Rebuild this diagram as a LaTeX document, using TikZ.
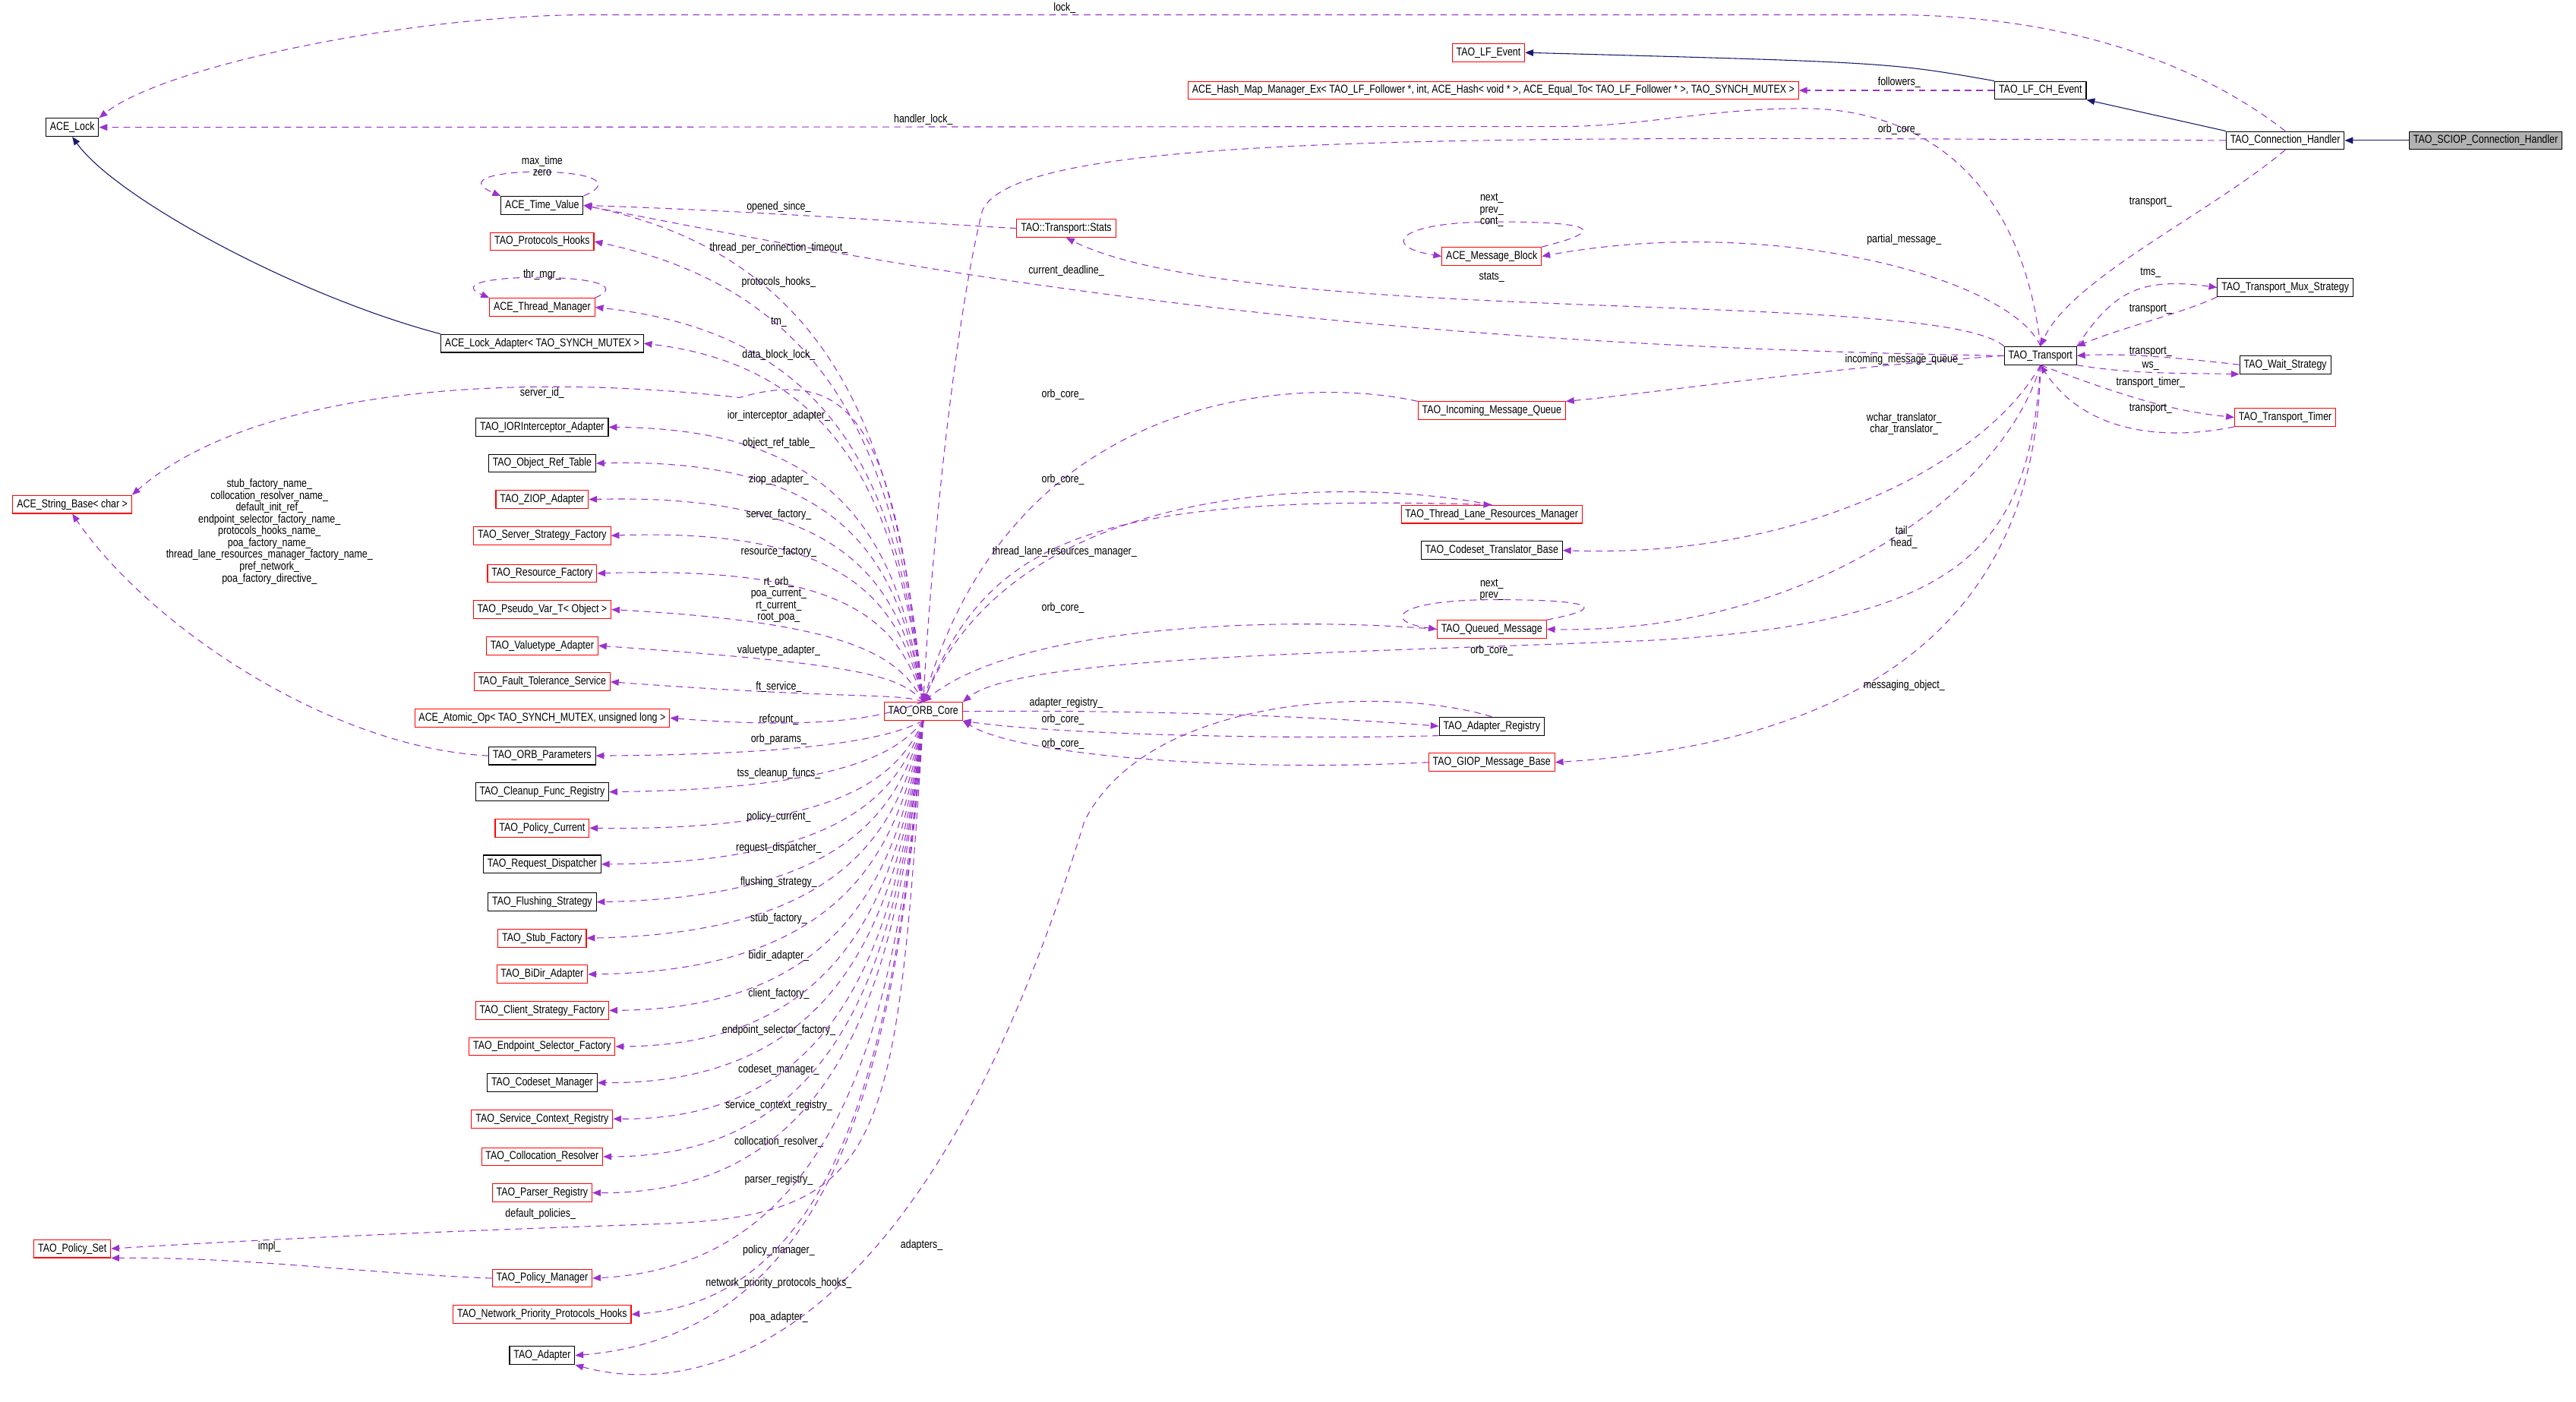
\documentclass[tikz,border=0pt]{standalone}
\usepackage{fontspec}
\setmainfont[FakeStretch=0.82]{Liberation Sans}
\usetikzlibrary{arrows.meta}
\definecolor{dorchid}{HTML}{9A32CD}
\definecolor{midnight}{HTML}{191970}
\begin{document}
\begin{tikzpicture}[x=1pt,y=-1pt,
  box/.style={draw=black,line width=0.5pt,fill=white,inner xsep=2.5pt,inner ysep=0pt,minimum height=11pt,font=\fontsize{7}{8}\selectfont},
  rbox/.style={box,draw=red},
  gbox/.style={box,fill=black!30},
  lbl/.style={font=\fontsize{7}{7.2}\selectfont,inner sep=0pt,align=center},
  dep/.style={draw=dorchid,line width=0.5pt,dash pattern=on 4pt off 3pt,-{Triangle[length=5pt,width=4pt]}},
  inh/.style={draw=midnight,line width=0.5pt,-{Triangle[length=5pt,width=4pt]}}]
\useasboundingbox (0,0) rectangle (1568,853);
% ---------- nodes ----------
\node[gbox] (sciop) at (1513,85.5) {TAO\_SCIOP\_Connection\_Handler};
\node[box] (conn) at (1391,85.5) {TAO\_Connection\_Handler};
\node[box] (lfch) at (1242,55) {TAO\_LF\_CH\_Event};
\node[rbox] (lfev) at (906,32) {TAO\_LF\_Event};
\node[rbox] (hash) at (909,55) {ACE\_Hash\_Map\_Manager\_Ex< TAO\_LF\_Follower *, int, ACE\_Hash< void * >, ACE\_Equal\_To< TAO\_LF\_Follower * >, TAO\_SYNCH\_MUTEX >};
\node[box] (lock) at (44,77.5) {ACE\_Lock};
\node[box] (tr) at (1242,216.5) {TAO\_Transport};
\node[box] (mux) at (1391,175) {TAO\_Transport\_Mux\_Strategy};
\node[box] (wait) at (1391,222) {TAO\_Wait\_Strategy};
\node[rbox] (timer) at (1391,254) {TAO\_Transport\_Timer};
\node[rbox] (stats) at (649,139) {TAO::Transport::Stats};
\node[rbox] (mb) at (908,156) {ACE\_Message\_Block};
\node[rbox] (imq) at (908,250) {TAO\_Incoming\_Message\_Queue};
\node[rbox] (tlrm) at (908,313) {TAO\_Thread\_Lane\_Resources\_Manager};
\node[box] (ctb) at (908,335) {TAO\_Codeset\_Translator\_Base};
\node[rbox] (qm) at (908,383) {TAO\_Queued\_Message};
\node[box] (ar) at (908,442) {TAO\_Adapter\_Registry};
\node[rbox] (giop) at (908,464) {TAO\_GIOP\_Message\_Base};
\node[rbox] (orb) at (562,433) {TAO\_ORB\_Core};
\node[rbox] (sb) at (44,307) {ACE\_String\_Base< char >};
\node[rbox] (ps) at (44,760) {TAO\_Policy\_Set};
\node[box] (tv) at (330,125) {ACE\_Time\_Value};
\node[rbox] (ph) at (330,147) {TAO\_Protocols\_Hooks};
\node[rbox] (tm) at (330,187) {ACE\_Thread\_Manager};
\node[box] (la) at (330,209) {ACE\_Lock\_Adapter< TAO\_SYNCH\_MUTEX >};
\node[box] (ior) at (330,260) {TAO\_IORInterceptor\_Adapter};
\node[box] (ort) at (330,282) {TAO\_Object\_Ref\_Table};
\node[rbox] (ziop) at (330,304) {TAO\_ZIOP\_Adapter};
\node[rbox] (ssf) at (330,326) {TAO\_Server\_Strategy\_Factory};
\node[rbox] (rf) at (330,349) {TAO\_Resource\_Factory};
\node[rbox] (pv) at (330,371) {TAO\_Pseudo\_Var\_T< Object >};
\node[rbox] (va) at (330,393) {TAO\_Valuetype\_Adapter};
\node[rbox] (ft) at (330,415) {TAO\_Fault\_Tolerance\_Service};
\node[rbox] (ao) at (330,437) {ACE\_Atomic\_Op< TAO\_SYNCH\_MUTEX, unsigned long >};
\node[box] (op) at (330,460) {TAO\_ORB\_Parameters};
\node[box] (cfr) at (330,482) {TAO\_Cleanup\_Func\_Registry};
\node[rbox] (pc) at (330,504) {TAO\_Policy\_Current};
\node[box] (rd) at (330,526) {TAO\_Request\_Dispatcher};
\node[box] (fs) at (330,549) {TAO\_Flushing\_Strategy};
\node[rbox] (sf) at (330,571) {TAO\_Stub\_Factory};
\node[rbox] (bd) at (330,593) {TAO\_BiDir\_Adapter};
\node[rbox] (csf) at (330,615) {TAO\_Client\_Strategy\_Factory};
\node[rbox] (esf) at (330,637) {TAO\_Endpoint\_Selector\_Factory};
\node[box] (cm) at (330,659) {TAO\_Codeset\_Manager};
\node[rbox] (scr) at (330,681) {TAO\_Service\_Context\_Registry};
\node[rbox] (cr) at (330,704) {TAO\_Collocation\_Resolver};
\node[rbox] (pr) at (330,726) {TAO\_Parser\_Registry};
\node[rbox] (pm) at (330,778) {TAO\_Policy\_Manager};
\node[rbox] (np) at (330,800) {TAO\_Network\_Priority\_Protocols\_Hooks};
\node[box] (ad) at (330,825) {TAO\_Adapter};
% ---------- inheritance ----------
\draw[inh] (sciop) -- (conn);
\draw[inh] (conn.north west) -- (lfch.south east);
\draw[inh] (lfch.north west) .. controls (1150,38) .. (lfev.east);
\draw[inh] (la.north west) .. controls (180,180) and (70,120) .. (lock.south);
% ---------- right part ----------
\draw[dep] (conn.north) .. controls (1340,40) and (1260,9) .. (1150,9) -- (360,9) .. controls (250,9) and (100,40) .. (lock.north east);
\node[lbl] (l1) at (648,5) {lock\_};
\draw[dep] (lfch.west) -- (hash.east);
\node[lbl] (l2) at (1156,50) {followers\_};
\draw[dep] (tr.north) .. controls (1232,120) and (1180,66) .. (1097,66) .. controls (1040,66) and (1000,77) .. (950,77) -- (lock.east);
\node[lbl] (l3) at (562,73) {handler\_lock\_};
\draw[dep] (conn.west) .. controls (900,83) and (620,80) .. (598,128) .. controls (580,200) and (566,350) .. (orb.north);
\node[lbl] (l4) at (1156,79) {orb\_core\_};
\draw[dep] (conn.south) .. controls (1345,130) and (1260,170) .. (tr.north);
\node[lbl] (l5) at (1309,123) {transport\_};
\draw[dep] (tr.north east) .. controls (1285,180) and (1300,168) .. (mux.west);
\node[lbl] (l6) at (1309,166) {tms\_};
\draw[dep] (mux.south west) .. controls (1330,190) and (1290,200) .. (tr.north east);
\node[lbl] (l7) at (1309,188) {transport\_};
\draw[dep] (wait.west) .. controls (1320,217) and (1290,215) .. (tr.east);
\node[lbl] (l8) at (1309,214) {transport\_};
\draw[dep] (tr.south east) .. controls (1300,228) and (1330,227) .. (wait.south west);
\node[lbl] (l9) at (1309,223) {ws\_};
\draw[dep] (tr.south) .. controls (1290,240) and (1320,250) .. (timer.west);
\node[lbl] (l10) at (1309,233) {transport\_timer\_};
\draw[dep] (timer.south west) .. controls (1320,268) and (1270,265) .. (tr.south);
\node[lbl] (l11) at (1309,249) {transport\_};
\draw[dep] (tr.north west) .. controls (1180,175) and (760,200) .. (stats.south);
\node[lbl] (l12) at (908,169) {stats\_};
\draw[dep] (stats.west) .. controls (550,135) and (450,128) .. (tv.east);
\node[lbl] (l13) at (474,126) {opened\_since\_};
\draw[dep] (tr.west) .. controls (800,210) and (560,165) .. (tv.east);
\node[lbl] (l14) at (649,165) {current\_deadline\_};
\draw[dep] (tr.north) .. controls (1225,170) and (1080,130) .. (mb.east);
\node[lbl] (l15) at (1159,146) {partial\_message\_};
\draw[dep] (mb.north east) .. controls (980,140) and (970,135) .. (910,135) .. controls (850,135) and (840,150) .. (mb.west);
\node[lbl] (l16) at (908,128) {next\_\\prev\_\\cont\_};
\draw[dep] (tr.west) .. controls (1100,225) and (1000,240) .. (imq.north east);
\node[lbl] (l17) at (1159,219) {incoming\_message\_queue\_};
\draw[dep] (imq.north west) .. controls (800,230) and (620,230) .. (orb.north);
\node[lbl] (l18) at (647,240) {orb\_core\_};
\draw[dep] (tr.south) .. controls (1210,280) and (1100,340) .. (ctb.east);
\node[lbl] (l19) at (1159,258) {wchar\_translator\_\\char\_translator\_};
\draw[dep] (tlrm.north) .. controls (820,290) and (620,290) .. (orb.north);
\node[lbl] (l20) at (647,292) {orb\_core\_};
\draw[dep] (orb.north) .. controls (600,330) and (660,300) .. (tlrm.north);
\node[lbl] (l21) at (648,336) {thread\_lane\_resources\_manager\_};
\draw[dep] (tr.south) .. controls (1220,300) and (1100,386) .. (qm.east);
\node[lbl] (l22) at (1159,327) {tail\_\\head\_};
\draw[dep] (qm.north east) .. controls (980,370) and (970,365) .. (910,365) .. controls (850,365) and (840,378) .. (qm.west);
\node[lbl] (l23) at (908,359) {next\_\\prev\_};
\draw[dep] (qm.west) .. controls (780,375) and (620,380) .. (orb.north);
\node[lbl] (l24) at (647,370) {orb\_core\_};
\draw[dep] (tr.south) .. controls (1235,330) and (1200,380) .. (1000,390) .. controls (800,398) and (620,400) .. (orb.north east);
\node[lbl] (l25) at (908,396) {orb\_core\_};
\draw[dep] (tr.south) .. controls (1240,350) and (1170,450) .. (giop.east);
\node[lbl] (l26) at (1159,417) {messaging\_object\_};
\draw[dep] (orb.east) .. controls (700,432) and (800,436) .. (ar.west);
\node[lbl] (l27) at (649,428) {adapter\_registry\_};
\draw[dep] (ar.south west) .. controls (800,450) and (650,448) .. (orb.south east);
\node[lbl] (l28) at (647,438) {orb\_core\_};
\draw[dep] (giop.west) .. controls (750,470) and (620,460) .. (orb.south east);
\node[lbl] (l29) at (647,453) {orb\_core\_};
\draw[dep] (ar.north) .. controls (850,418) and (700,420) .. (660,500) .. controls (560,830) and (420,850) .. (ad.south east);
\node[lbl] (l30) at (561,758) {adapters\_};
% ---------- self loops ----------
\draw[dep] (tv.north east) .. controls (400,100) and (260,100) .. (tv.north west);
\node[lbl] (l31) at (330,101) {max\_time\\zero};
\draw[dep] (tm.north east) .. controls (400,165) and (260,165) .. (tm.north west);
\node[lbl] (l32) at (330,167) {thr\_mgr\_};
% ---------- left column from ORB ----------
\foreach \t/\lab/\ly in {tv/thread\_per\_connection\_timeout\_/151, ph/protocols\_hooks\_/172, tm/tm\_/196, la/data\_block\_lock\_/216, ior/ior\_interceptor\_adapter\_/253, ort/object\_ref\_table\_/270, ziop/ziop\_adapter\_/292, ssf/server\_factory\_/313, rf/resource\_factory\_/336, va/valuetype\_adapter\_/396, ft/ft\_service\_/418, ao/refcount\_/438}{
  \path (\t.east) coordinate (te);
  \draw[dep] (orb.north) .. controls (548,{(\ly+425)/2}) and (520,\ly+8) .. (te);
  \node[lbl] at (474,\ly) {\lab};
}
\draw[dep] (orb.north) .. controls (548,400) and (520,379) .. (pv.east);
\node[lbl] (l33) at (474,365) {rt\_orb\_\\poa\_current\_\\rt\_current\_\\root\_poa\_};
\foreach \t/\lab/\ly in {op/orb\_params\_/450, cfr/tss\_cleanup\_funcs\_/471, pc/policy\_current\_/497, rd/request\_dispatcher\_/516, fs/flushing\_strategy\_/537, sf/stub\_factory\_/559, bd/bidir\_adapter\_/582, csf/client\_factory\_/605, esf/endpoint\_selector\_factory\_/627, cm/codeset\_manager\_/651, scr/service\_context\_registry\_/673, cr/collocation\_resolver\_/695, pr/parser\_registry\_/718, pm/policy\_manager\_/761, np/network\_priority\_protocols\_hooks\_/781, ad/poa\_adapter\_/802}{
  \path (\t.east) coordinate (te);
  \draw[dep] (orb.south) .. controls (548,{(\ly+440)/2}) and (520,\ly+9) .. (te);
  \node[lbl] at (474,\ly) {\lab};
}
% ---------- string base / policy set ----------
\draw[dep] (orb.north) .. controls (545,260) and (520,222) .. (450,242) .. controls (300,225) and (150,240) .. (sb.north east);
\node[lbl] (l34) at (330,239) {server\_id\_};
\draw[dep] (op.west) .. controls (200,455) and (90,380) .. (sb.south);
\node[lbl] (l35) at (164,323.5) {stub\_factory\_name\_\\collocation\_resolver\_name\_\\default\_init\_ref\_\\endpoint\_selector\_factory\_name\_\\protocols\_hooks\_name\_\\poa\_factory\_name\_\\thread\_lane\_resources\_manager\_factory\_name\_\\pref\_network\_\\poa\_factory\_directive\_};
\draw[dep] (orb.south) .. controls (545,700) and (540,740) .. (400,745) .. controls (250,750) and (150,755) .. (ps.east);
\node[lbl] (l36) at (329,739) {default\_policies\_};
\draw[dep] (pm.west) .. controls (220,775) and (150,765) .. (ps.south east);
\node[lbl] (l37) at (164,759) {impl\_};
\end{tikzpicture}
\end{document}
